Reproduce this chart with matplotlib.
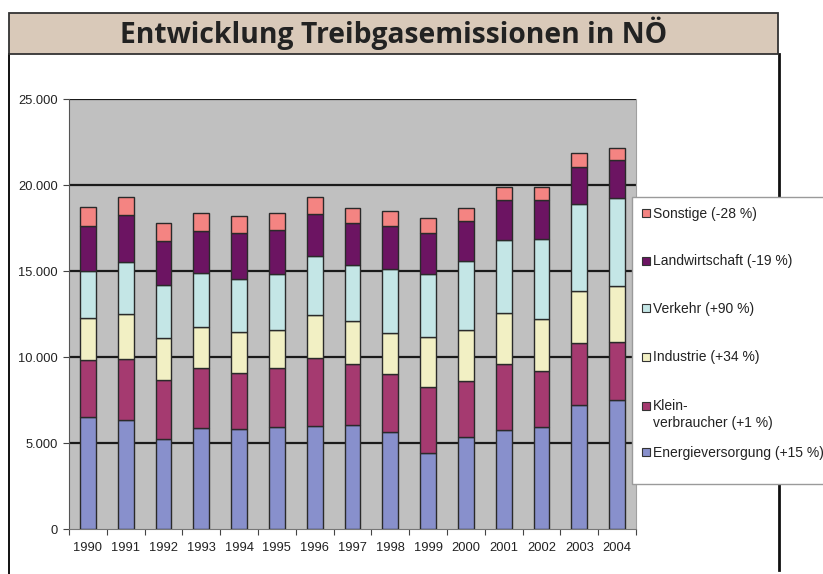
import matplotlib
matplotlib.use("Agg")
import matplotlib.pyplot as plt
from matplotlib.patches import Rectangle
from matplotlib.lines import Line2D
from matplotlib.ticker import FuncFormatter, FixedLocator
import numpy as np

plt.rcParams['font.family'] = ['Liberation Sans', 'DejaVu Sans']

years = ['1990', '1991', '1992', '1993', '1994', '1995', '1996', '1997',
         '1998', '1999', '2000', '2001', '2002', '2003', '2004']

energieversorgung = [6540, 6350, 5225, 5900, 5840, 5925, 6015, 6055, 5635, 4430, 5360, 5785, 5960, 7200, 7525]
kleinverbraucher  = [3275, 3520, 3430, 3465, 3255, 3425, 3915, 3545, 3365, 3815, 3270, 3795, 3215, 3600, 3335]
industrie         = [2440, 2630, 2470, 2385, 2345, 2240, 2495, 2515, 2380, 2905, 2960, 2980, 3055, 3055, 3270]
verkehr           = [2745, 3040, 3080, 3115, 3115, 3220, 3445, 3235, 3755, 3675, 3990, 4240, 4610, 5020, 5090]
landwirtschaft    = [2630, 2730, 2535, 2460, 2650, 2570, 2425, 2420, 2495, 2365, 2325, 2305, 2265, 2165, 2210]
sonstige          = [1070, 1045, 1065, 1025,  990, 1005,  985,  905,  835,  870,  770,  790,  755,  795,  695]

series_names = ['Energieversorgung (+15 %)', 'Klein-\nverbraucher (+1 %)', 'Industrie (+34 %)',
                'Verkehr (+90 %)', 'Landwirtschaft (-19 %)', 'Sonstige (-28 %)']
series_values = [energieversorgung, kleinverbraucher, industrie, verkehr, landwirtschaft, sonstige]
series_colors = ['#8890cc', '#a53a70', '#f2f0c4', '#c4e6e6', '#6c1462', '#f48482']

title = 'Entwicklung Treibgasemissionen in NÖ'
y_ticks = [0, 5000, 10000, 15000, 20000, 25000]

W, H = 823, 574
fig = plt.figure(figsize=(W / 100, H / 100), dpi=100)
fig.patch.set_facecolor('white')

def fx(px):
    return px / W

def fy(py):
    return 1 - py / H

ax = fig.add_axes([fx(69), fy(529.3), fx(636) - fx(69), fy(99) - fy(529.3)])
ax.set_facecolor('#c0c0c0')

x = np.arange(len(years))
bottom = np.zeros(len(years))
for vals, col in zip(series_values, series_colors):
    v = np.array(vals, dtype=float)
    ax.bar(x, v, bottom=bottom, width=0.42, color=col, edgecolor='#2a2a2a',
           linewidth=1.0, zorder=3)
    bottom += v

ax.set_xlim(-0.5, len(years) - 0.5)
ax.set_ylim(0, 25000)
ax.set_yticks(y_ticks)
ax.yaxis.set_major_formatter(FuncFormatter(lambda v, p: f'{int(v):,}'.replace(',', '.')))
for yv in y_ticks[1:]:
    ax.axhline(yv, color='#1a1a1a', linewidth=1.6, zorder=2)

ax.set_xticks(x)
ax.set_xticklabels(years)
ax.xaxis.set_minor_locator(FixedLocator(np.arange(-0.5, len(years), 1.0)))
ax.tick_params(axis='x', which='major', length=0, pad=9, labelsize=9.3, labelcolor='#222222')
ax.tick_params(axis='x', which='minor', length=4, width=0.8, color='#444444', direction='out')
ax.tick_params(axis='y', which='major', length=4, width=0.8, color='#444444', pad=4,
               labelsize=9.3, labelcolor='#222222')

ax.spines['top'].set_visible(False)
ax.spines['left'].set_color('#555555')
ax.spines['left'].set_linewidth(0.8)
ax.spines['bottom'].set_color('#777777')
ax.spines['bottom'].set_linewidth(0.8)
ax.spines['right'].set_color('#a0a0a0')
ax.spines['right'].set_linewidth(0.8)

# Title box
fig.patches.append(Rectangle((fx(9), fy(54)), fx(778) - fx(9), fy(13) - fy(54),
                             transform=fig.transFigure, facecolor='#d9c9b9',
                             edgecolor='#333333', linewidth=1.3, zorder=1))
fig.text(fx(393.5), fy(33.5), title, ha='center', va='center', fontsize=20.3,
         fontweight='bold', color='#222222', family=['Open Sans', 'DejaVu Sans'], zorder=2)

# Frame lines
fig.add_artist(Line2D([fx(9), fx(9)], [fy(54), fy(574)], transform=fig.transFigure,
                      color='#111111', linewidth=1.4, zorder=1))
fig.add_artist(Line2D([fx(779), fx(779)], [fy(54), fy(570)], transform=fig.transFigure,
                      color='#111111', linewidth=2.0, zorder=1))

# Legend box
fig.patches.append(Rectangle((fx(632), fy(484)), fx(840) - fx(632), fy(197) - fy(484),
                             transform=fig.transFigure, facecolor='white',
                             edgecolor='#9a9a9a', linewidth=1.0, zorder=5))
legend_y = [452, 406, 357, 308, 261, 213]
for name, col, ly in zip(series_names, series_colors, legend_y):
    fig.patches.append(Rectangle((fx(642), fy(ly + 4)), fx(8), 8 / H,
                                 transform=fig.transFigure, facecolor=col,
                                 edgecolor='#333333', linewidth=0.8, zorder=6))
    for i, line in enumerate(name.split('\n')):
        fig.text(fx(653), fy(ly + 4.5 + 17 * i), line, ha='left', va='baseline',
                 fontsize=10, color='#222222', zorder=6)

fig.savefig('out.png', dpi=100)
